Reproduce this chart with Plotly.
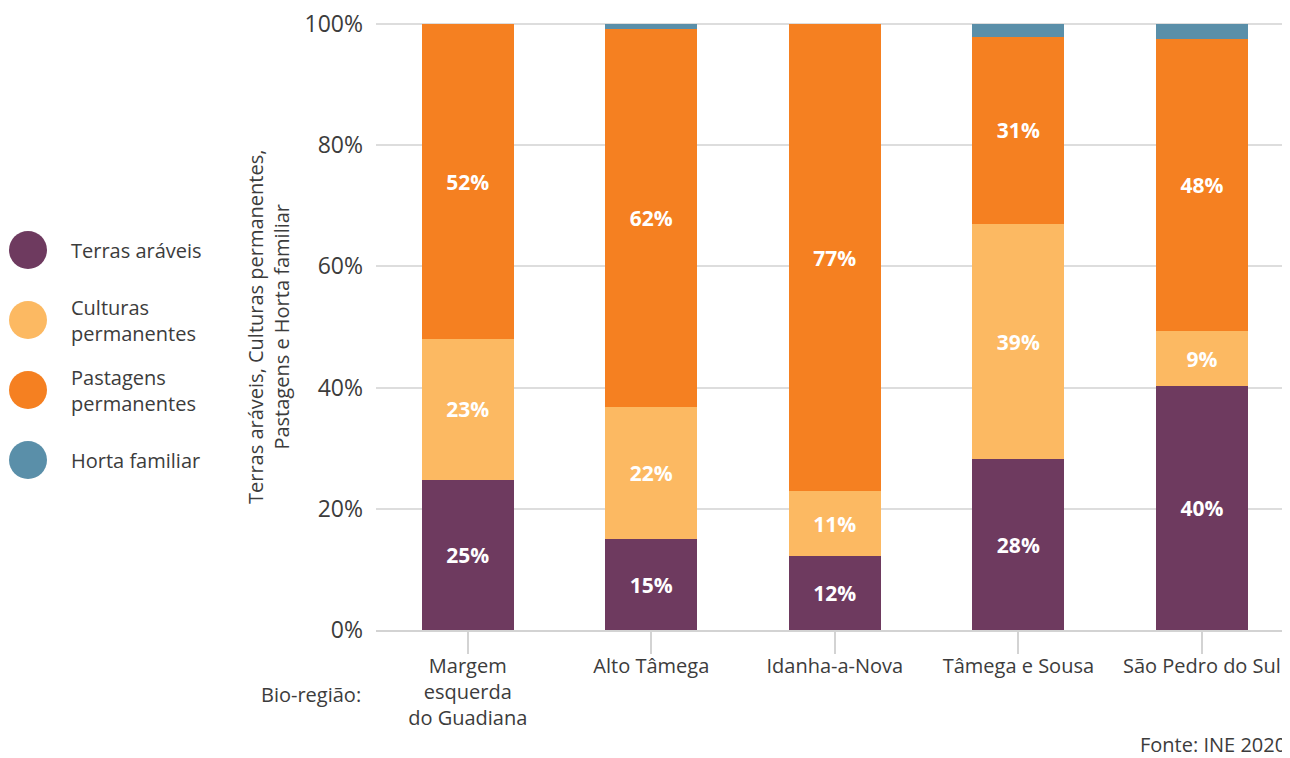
import plotly.graph_objects as go

categories = ["Margem<br>esquerda<br>do Guadiana", "Alto Tâmega", "Idanha-a-Nova",
              "Tâmega e Sousa", "São Pedro do Sul"]
series_names = ["Terras aráveis", "Culturas<br>permanentes", "Pastagens<br>permanentes", "Horta familiar"]
terras = [24.8, 15.0, 12.2, 28.2, 40.3]
culturas = [23.2, 21.8, 10.7, 38.8, 9.0]
pastagens = [52.0, 62.4, 77.1, 30.9, 48.2]
horta = [0.0, 0.8, 0.0, 2.1, 2.5]
colors = ["#6E3A5F", "#FCB962", "#F58021", "#5A8FA9"]
show_labels = [True, True, True, False]
y_ticks = [0, 20, 40, 60, 80, 100]
y_ticktext = ["0%", "20%", "40%", "60%", "80%", "100%"]

FONT = "Open Sans"
TXT = "#3c3c3c"
WT = 500
OFF = 8  # page body margin
YMAX = 100.5
W, H = 1290 - OFF, 758 - OFF
PH = 609
ML = 376 - OFF
BOTTOM = 630 - OFF  # pixel row of 0% in figure coords
MT = BOTTOM - PH
MB = H - BOTTOM
PW = W - ML


def xp(px):
    return (px - OFF - ML) / PW


def yp(py):
    return (BOTTOM - (py - OFF)) / PH


fig = go.Figure()
for name, vals, col, lab in zip(series_names, [terras, culturas, pastagens, horta], colors, show_labels):
    fig.add_trace(go.Bar(
        x=list(range(len(categories))), y=vals, name=name.replace("<br>", " "),
        marker=dict(color=col, line=dict(width=0)),
        width=0.5,
        texttemplate="<b>%{y:.0f}%</b>" if lab else None,
        textposition="inside" if lab else "none",
        insidetextanchor="middle",
        textfont=dict(color="white", size=21, family=FONT),
        showlegend=False,
    ))

shapes = []
annotations = []
legend_y = [250, 320, 390, 460]
for name, col, ly in zip(series_names, colors, legend_y):
    shapes.append(dict(type="circle", xref="paper", yref="paper",
                       xsizemode="pixel", ysizemode="pixel",
                       xanchor=xp(28), yanchor=yp(ly),
                       x0=-19, x1=19, y0=-19, y1=19,
                       fillcolor=col, line=dict(width=0)))
    annotations.append(dict(text=name, xref="paper", yref="paper", x=xp(69), y=yp(ly),
                            xanchor="left", yanchor="middle", align="left", showarrow=False,
                            font=dict(size=20, color=TXT, family=FONT, weight=WT)))

annotations.append(dict(text="Terras aráveis, Culturas permanentes,<br>Pastagens e Horta familiar",
                        textangle=-90, xref="paper", yref="paper", x=xp(268), y=yp(327),
                        xanchor="center", yanchor="middle", showarrow=False,
                        font=dict(size=20, color=TXT, family=FONT)))
annotations.append(dict(text="Bio-região:", xref="paper", yref="paper", x=xp(363), y=yp(694),
                        xanchor="right", yanchor="middle", showarrow=False,
                        font=dict(size=20, color=TXT, family=FONT, weight=WT)))
annotations.append(dict(text="Fonte: INE 2020", xref="paper", yref="paper", x=xp(1288), y=yp(744),
                        xanchor="right", yanchor="middle", showarrow=False,
                        font=dict(size=20, color=TXT, family=FONT, weight=WT)))

fig.update_layout(
    barmode="stack",
    width=W, height=H,
    margin=dict(l=ML, r=0, t=MT, b=MB),
    paper_bgcolor="white", plot_bgcolor="white",
    font=dict(family=FONT, color=TXT),
    shapes=shapes,
    annotations=annotations,
    xaxis=dict(
        tickmode="array", tickvals=list(range(len(categories))), ticktext=categories,
        range=[-0.5, 4.48], tickson="boundaries", ticks="outside", ticklen=22,
        tickcolor="#d3d3d3", tickwidth=2, showline=True, linecolor="#d3d3d3", linewidth=2,
        showgrid=False, zeroline=False, ticklabelstandoff=-5,
        tickfont=dict(size=20, color=TXT, family=FONT, weight=WT),
    ),
    yaxis=dict(
        range=[0, YMAX], tickvals=y_ticks, ticktext=y_ticktext,
        showgrid=True, gridcolor="#dddddd", gridwidth=1.5, zeroline=False,
        showline=False, ticks="", ticklabelstandoff=12, ticklabeloverflow="allow",
        tickfont=dict(size=23, color=TXT, family=FONT),
    ),
)

fig.write_html("out.html")
